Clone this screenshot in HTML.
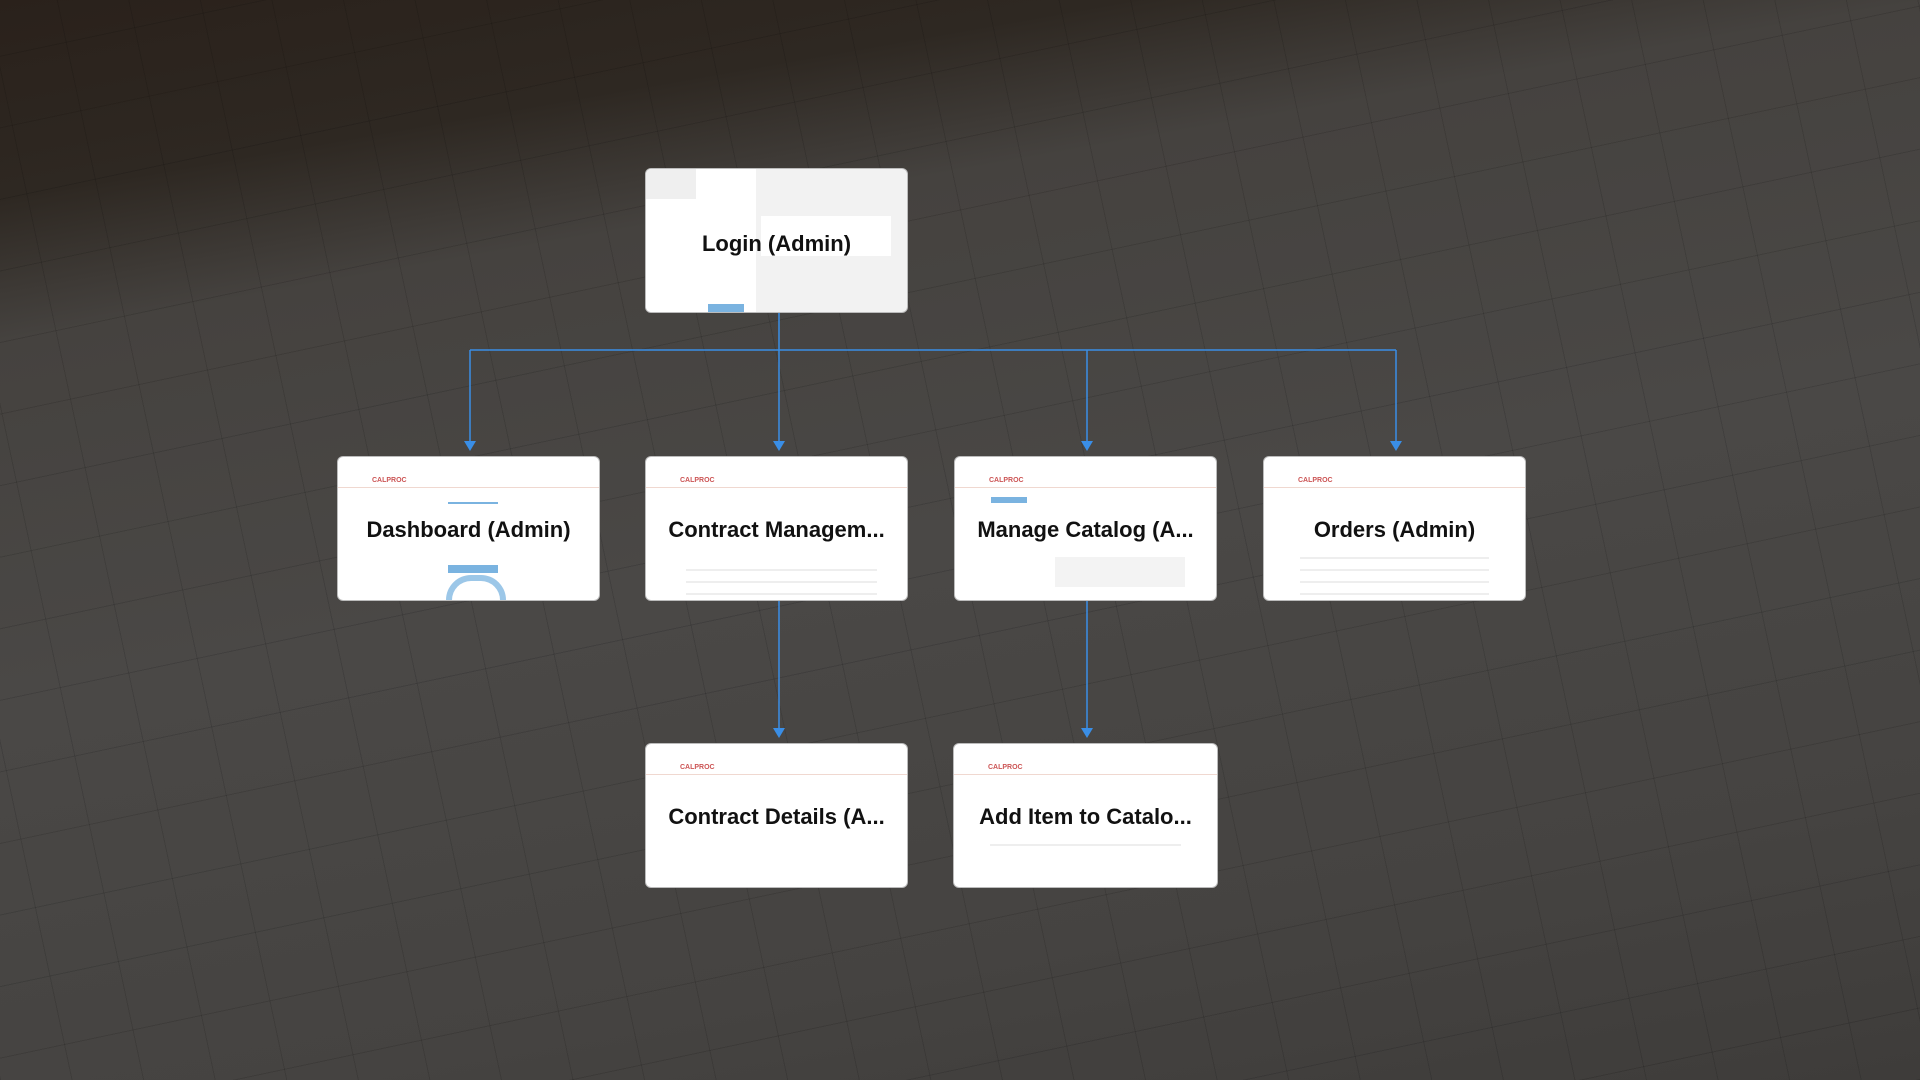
<!DOCTYPE html>
<html><head><meta charset="utf-8"><style>
html,body{margin:0;padding:0;width:1920px;height:1080px;overflow:hidden}
body{position:relative;font-family:"Liberation Sans",sans-serif;
background:
repeating-linear-gradient(-12deg,rgba(0,0,0,.12) 0 1px,transparent 1px 70px),
repeating-linear-gradient(78deg,rgba(0,0,0,.12) 0 1px,transparent 1px 70px),
linear-gradient(170deg,#2a211b 0%,#2e2822 14%,#45423f 24%,#4a4846 50%,#454341 80%,#3e3c3a 100%)}
.n{position:absolute;width:261px;height:143px;background:#fff;border-radius:5px;box-shadow:0 0 0 1px #bbb;overflow:hidden}
.n .hd{position:absolute;left:0;right:0;top:0;height:30px;border-bottom:1px solid #f0d8d0}
.n .logo{position:absolute;left:34px;top:20px;font-size:7px;color:#c55;font-weight:bold}
.n .lbl{position:absolute;left:0;right:0;top:60px;text-align:center;font-size:22px;font-weight:bold;color:#111;white-space:nowrap}
.n .ln{position:absolute;height:2px;background:#eee}
</style></head><body>
<svg width="1920" height="1080" style="position:absolute;left:0;top:0;display:block">
<g stroke="#3a8ee6" stroke-width="1.5" fill="none">
<path d="M779 312V445M470 350H1396M470 350V445M1087 350V445M1396 350V445M779 600V731M1087 600V731"/>
</g>
<g fill="#3a8ee6">
<path d="M464 441h12l-6 10z"/><path d="M773 441h12l-6 10z"/><path d="M1081 441h12l-6 10z"/><path d="M1390 441h12l-6 10z"/>
<path d="M773 728h12l-6 10z"/><path d="M1081 728h12l-6 10z"/>
</g></svg>
<div class="n" style="left:646px;top:169px;background:#f2f2f2">
<div style="position:absolute;left:0;top:0;width:110px;height:143px;background:#fff"></div>
<div style="position:absolute;left:115px;top:47px;width:130px;height:40px;background:#fff"></div>
<div style="position:absolute;left:0;top:0;width:50px;height:30px;background:#e4e4e4;opacity:.6"></div>
<div style="position:absolute;left:62px;top:135px;width:36px;height:8px;background:#7ab3e0"></div>
<div class="lbl" style="top:62px">Login (Admin)</div></div>
<div class="n" style="left:338px;top:457px"><div class="hd"></div><div class="logo">CALPROC</div>
<div style="position:absolute;left:110px;top:45px;width:50px;height:2px;background:#7ab3e0"></div>
<div style="position:absolute;left:110px;top:108px;width:50px;height:8px;background:#7ab3e0"></div>
<div style="position:absolute;left:108px;top:118px;width:60px;height:25px;border:6px solid #9cc7e8;border-bottom:none;border-radius:30px 30px 0 0;box-sizing:border-box"></div>
<div class="lbl">Dashboard (Admin)</div></div>
<div class="n" style="left:646px;top:457px"><div class="hd"></div><div class="logo">CALPROC</div>
<div class="ln" style="left:40px;right:30px;top:112px"></div><div class="ln" style="left:40px;right:30px;top:124px"></div><div class="ln" style="left:40px;right:30px;top:136px"></div>
<div class="lbl">Contract Managem...</div></div>
<div class="n" style="left:955px;top:457px"><div class="hd"></div><div class="logo">CALPROC</div>
<div style="position:absolute;left:36px;top:40px;width:36px;height:6px;background:#7ab3e0"></div>
<div style="position:absolute;left:100px;top:100px;width:130px;height:30px;background:#f3f3f3"></div>
<div class="lbl">Manage Catalog (A...</div></div>
<div class="n" style="left:1264px;top:457px"><div class="hd"></div><div class="logo">CALPROC</div>
<div class="ln" style="left:36px;right:36px;top:100px"></div><div class="ln" style="left:36px;right:36px;top:112px"></div><div class="ln" style="left:36px;right:36px;top:124px"></div><div class="ln" style="left:36px;right:36px;top:136px"></div>
<div class="lbl">Orders (Admin)</div></div>
<div class="n" style="left:646px;top:744px"><div class="hd"></div><div class="logo">CALPROC</div>
<div class="lbl">Contract Details (A...</div></div>
<div class="n" style="left:954px;top:744px;width:263px"><div class="hd"></div><div class="logo">CALPROC</div>
<div class="ln" style="left:36px;right:36px;top:100px"></div>
<div class="lbl">Add Item to Catalo...</div></div>
</body></html>
